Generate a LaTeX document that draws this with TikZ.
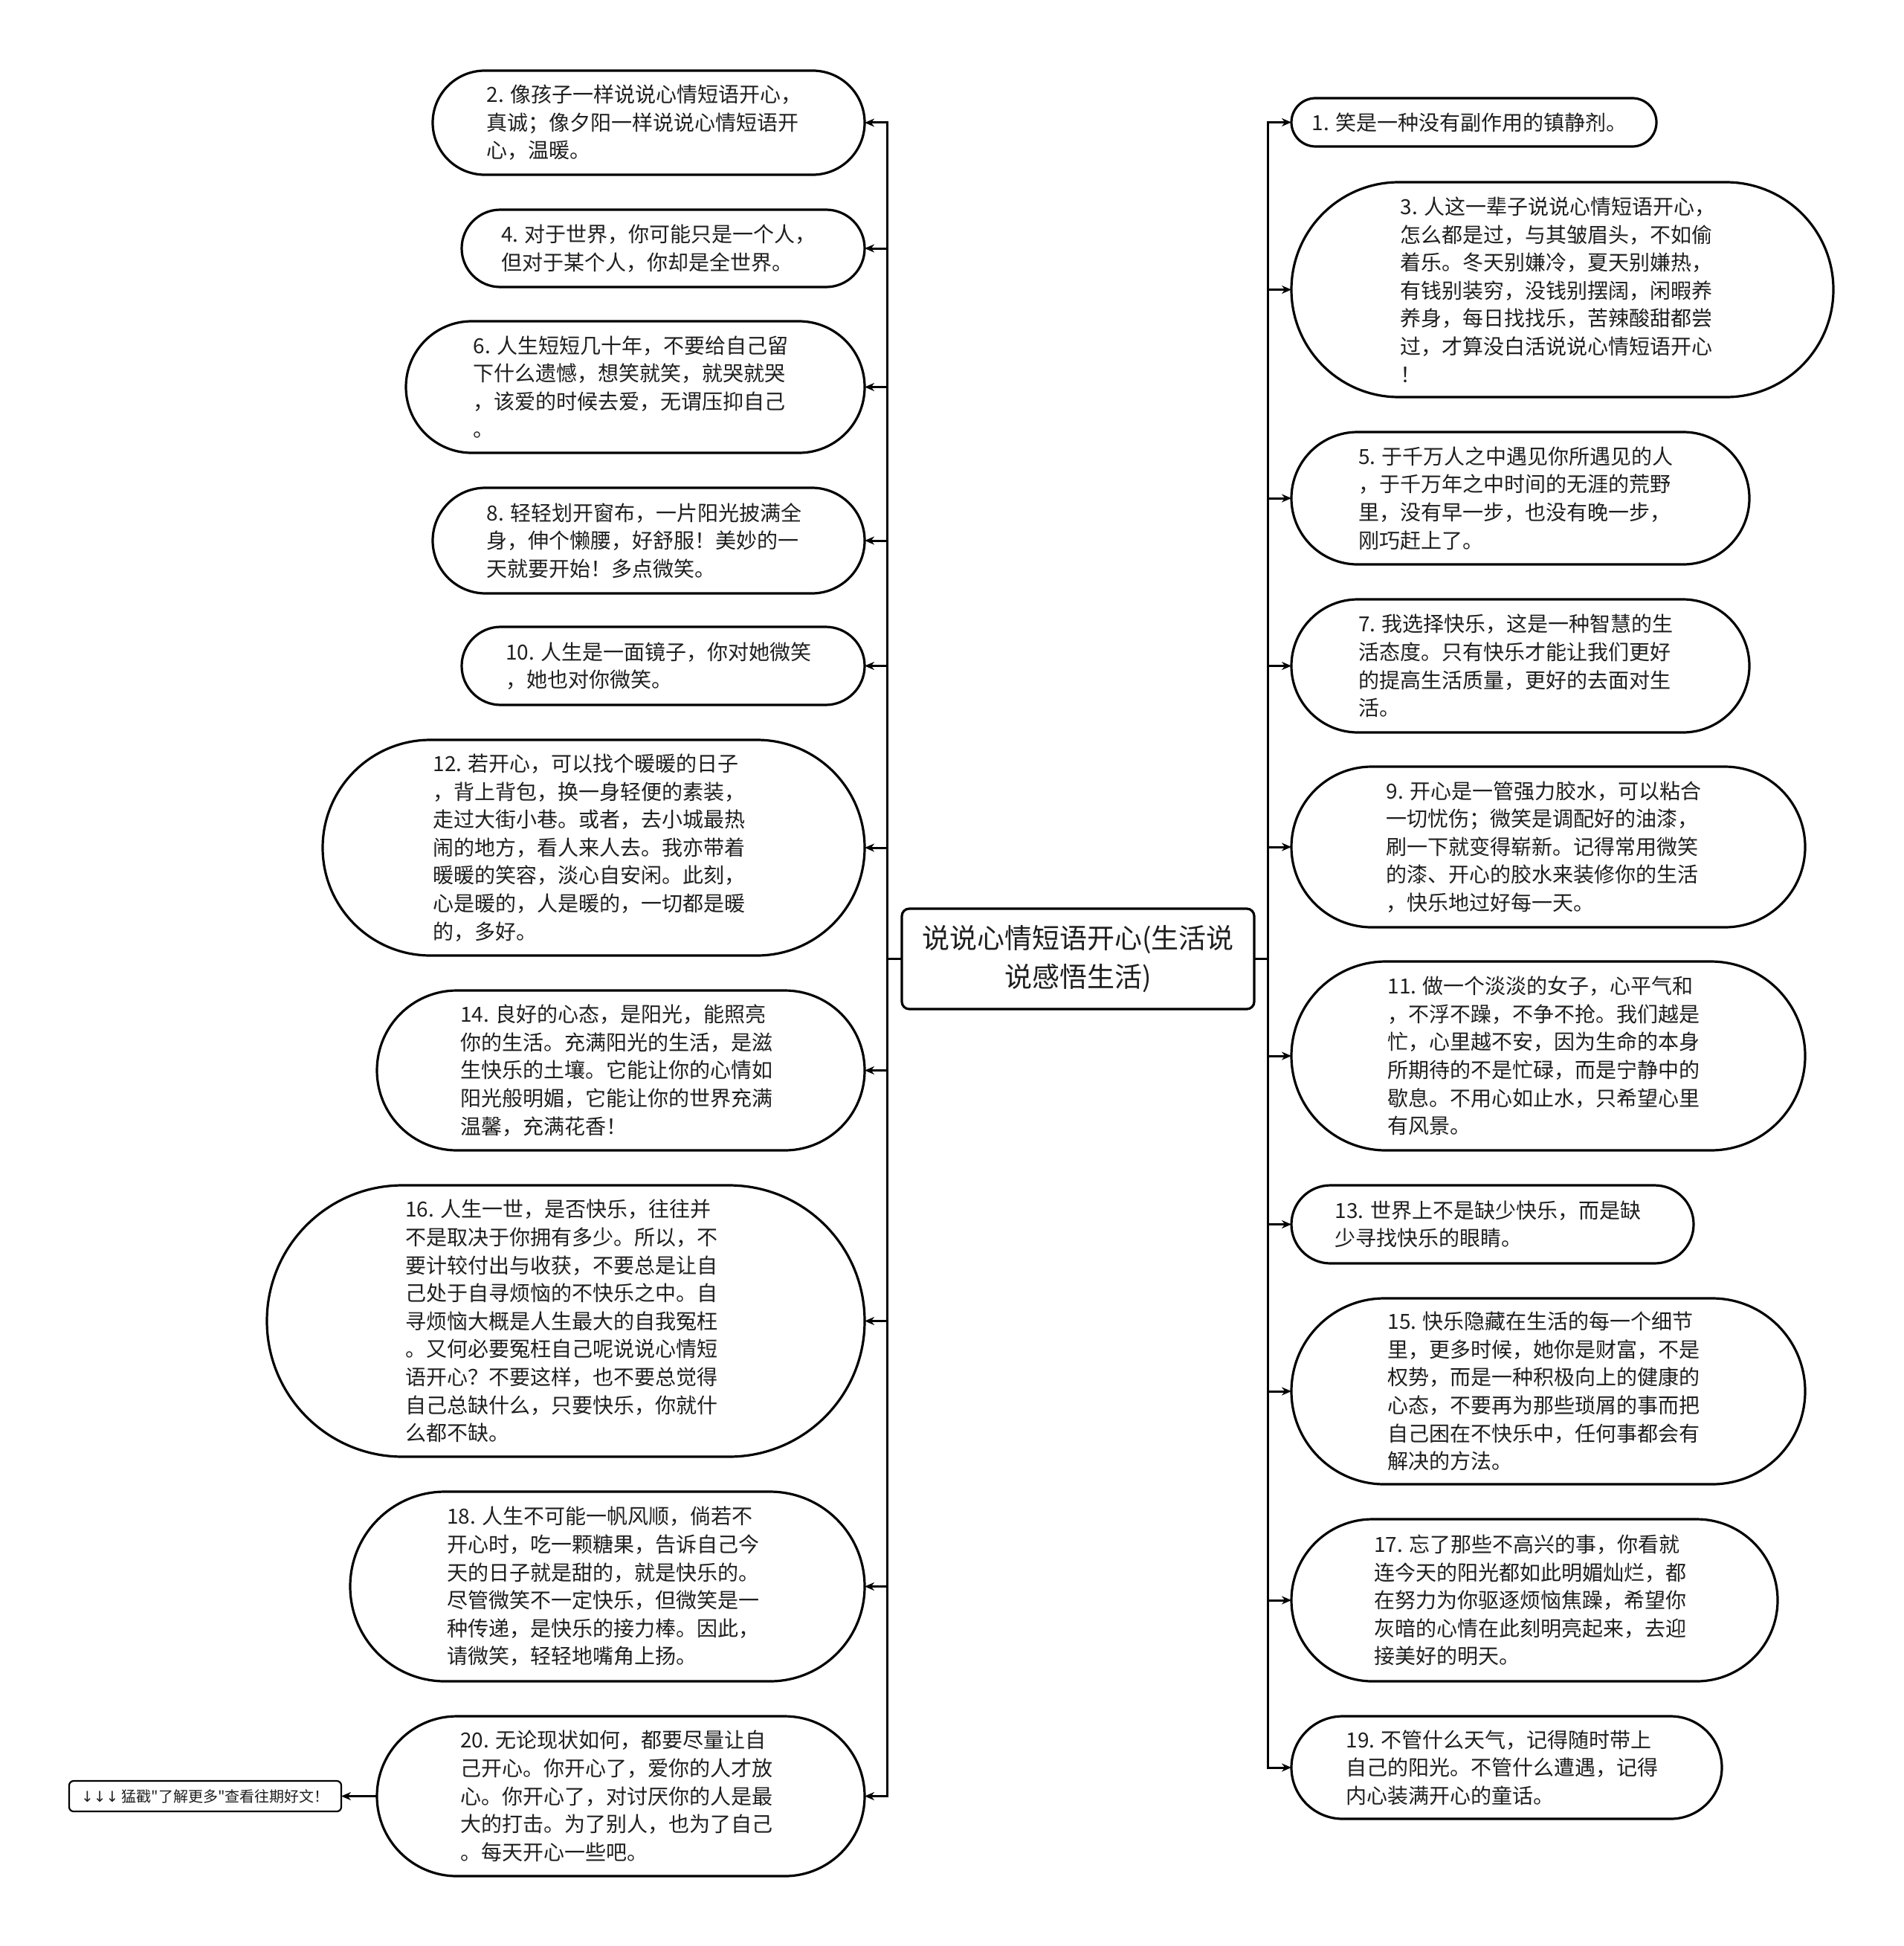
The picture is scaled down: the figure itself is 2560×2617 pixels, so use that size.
\documentclass[tikz,border=0pt]{standalone}
\usepackage{fontspec}
\setmainfont{Noto Sans CJK SC}
\newfontfamily\plaincjk{Noto Sans CJK SC}
\newfontfamily\dvfont{DejaVu Sans}
\usetikzlibrary{shapes.misc,arrows.meta}
\tikzset{
  bub/.style={rounded rectangle, draw=black, line width=3.2pt, fill=white, inner sep=0pt, outer sep=0pt},
  txt/.style={align=left, font=\fontsize{28}{37.6}\selectfont, inner sep=0pt, text=black!88},
  cen/.style={draw=black, line width=3.2pt, rounded corners=10pt, fill=white, align=center, inner sep=0pt, outer sep=0pt, font=\fontsize{37}{52}\selectfont, text=black!88},
  foot/.style={draw=black, line width=2.2pt, rounded corners=6pt, fill=white, align=center, inner sep=0pt, outer sep=0pt, font=\plaincjk\fontsize{20}{24}\selectfont, text=black!88},
  conn/.style={draw=black, line width=3pt, -{Stealth[length=13pt,width=11pt]}}
}
\newcommand\bubble[6]{%
  \node[bub, minimum width={(#4-#2)*1pt}, minimum height={(#5-#3)*1pt}] (#1) at ({(#2+#4)/2},{-(#3+#5)/2}) {};
  \node[txt] (#1t) at ([xshift=-6pt]#1.center) {#6};
}
\begin{document}
\begin{tikzpicture}[x=1pt,y=1pt]
\useasboundingbox (0,0) rectangle (2560,-2617);
\fill[white] (0,0) rectangle (2560,-2617);
% central
\node[cen, minimum width=474pt, minimum height=135pt] (c) at (1450,-1289.5) {说说心情短语开心(生活说\\说感悟生活)};
% left
\bubble{n2}{582}{95}{1163}{235}{2. 像孩子一样说说心情短语开心，\\真诚；像夕阳一样说说心情短语开\\心，温暖。}
\bubble{n4}{621}{282}{1163}{386}{4. 对于世界，你可能只是一个人，\\但对于某个人，你却是全世界。}
\bubble{n6}{546}{432}{1163}{609}{6. 人生短短几十年，不要给自己留\\下什么遗憾，想笑就笑，就哭就哭\\，该爱的时候去爱，无谓压抑自己\\。}
\bubble{n8}{582}{656}{1163}{798}{8. 轻轻划开窗布，一片阳光披满全\\身，伸个懒腰，好舒服！美妙的一\\天就要开始！多点微笑。}
\bubble{n10}{621}{843}{1163}{948}{10. 人生是一面镜子，你对她微笑\\，她也对你微笑。}
\bubble{n12}{434}{995}{1163}{1285}{12. 若开心，可以找个暖暖的日子\\，背上背包，换一身轻便的素装，\\走过大街小巷。或者，去小城最热\\闹的地方，看人来人去。我亦带着\\暖暖的笑容，淡心自安闲。此刻，\\心是暖的，人是暖的，一切都是暖\\的，多好。}
\bubble{n14}{507}{1332}{1163}{1547}{14. 良好的心态，是阳光，能照亮\\你的生活。充满阳光的生活，是滋\\生快乐的土壤。它能让你的心情如\\阳光般明媚，它能让你的世界充满\\温馨，充满花香！}
\bubble{n16}{359}{1594}{1163}{1959}{16. 人生一世，是否快乐，往往并\\不是取决于你拥有多少。所以，不\\要计较付出与收获，不要总是让自\\己处于自寻烦恼的不快乐之中。自\\寻烦恼大概是人生最大的自我冤枉\\。又何必要冤枉自己呢说说心情短\\语开心？不要这样，也不要总觉得\\自己总缺什么，只要快乐，你就什\\么都不缺。}
\bubble{n18}{471}{2006}{1163}{2261}{18. 人生不可能一帆风顺，倘若不\\开心时，吃一颗糖果，告诉自己今\\天的日子就是甜的，就是快乐的。\\尽管微笑不一定快乐，但微笑是一\\种传递，是快乐的接力棒。因此，\\请微笑，轻轻地嘴角上扬。}
\bubble{n20}{507}{2308}{1163}{2523}{20. 无论现状如何，都要尽量让自\\己开心。你开心了，爱你的人才放\\心。你开心了，对讨厌你的人是最\\大的打击。为了别人，也为了自己\\。每天开心一些吧。}
\node[foot, minimum width=366pt, minimum height=41pt] (ft) at (276,-2415.5) {{\dvfont ↓↓↓} 猛戳"了解更多"查看往期好文！};
% right
\bubble{n1}{1737}{132}{2228}{197}{1. 笑是一种没有副作用的镇静剂。}
\bubble{n3}{1737}{245}{2466}{534}{3. 人这一辈子说说心情短语开心，\\怎么都是过，与其皱眉头，不如偷\\着乐。冬天别嫌冷，夏天别嫌热，\\有钱别装穷，没钱别摆阔，闲暇养\\养身，每日找找乐，苦辣酸甜都尝\\过，才算没白活说说心情短语开心\\！}
\bubble{n5}{1737}{581}{2353}{759}{5. 于千万人之中遇见你所遇见的人\\，于千万年之中时间的无涯的荒野\\里，没有早一步，也没有晚一步，\\刚巧赶上了。}
\bubble{n7}{1737}{806}{2353}{985}{7. 我选择快乐，这是一种智慧的生\\活态度。只有快乐才能让我们更好\\的提高生活质量，更好的去面对生\\活。}
\bubble{n9}{1737}{1031}{2428}{1247}{9. 开心是一管强力胶水，可以粘合\\一切忧伤；微笑是调配好的油漆，\\刷一下就变得崭新。记得常用微笑\\的漆、开心的胶水来装修你的生活\\，快乐地过好每一天。}
\bubble{n11}{1737}{1293}{2428}{1547}{11. 做一个淡淡的女子，心平气和\\，不浮不躁，不争不抢。我们越是\\忙，心里越不安，因为生命的本身\\所期待的不是忙碌，而是宁静中的\\歇息。不用心如止水，只希望心里\\有风景。}
\bubble{n13}{1737}{1594}{2278}{1699}{13. 世界上不是缺少快乐，而是缺\\少寻找快乐的眼睛。}
\bubble{n15}{1737}{1746}{2428}{1996}{15. 快乐隐藏在生活的每一个细节\\里，更多时候，她你是财富，不是\\权势，而是一种积极向上的健康的\\心态，不要再为那些琐屑的事而把\\自己困在不快乐中，任何事都会有\\解决的方法。}
\bubble{n17}{1737}{2043}{2391}{2261}{17. 忘了那些不高兴的事，你看就\\连今天的阳光都如此明媚灿烂，都\\在努力为你驱逐烦恼焦躁，希望你\\灰暗的心情在此刻明亮起来，去迎\\接美好的明天。}
\bubble{n19}{1737}{2308}{2316}{2446}{19. 不管什么天气，记得随时带上\\自己的阳光。不管什么遭遇，记得\\内心装满开心的童话。}
% connectors left
\foreach \n in {n2,n4,n6,n8,n10,n12,n14,n16,n18,n20}
  \draw[conn] (c.west) -- ++(-20,0) |- (\n.east);
% connectors right
\foreach \n in {n1,n3,n5,n7,n9,n11,n13,n15,n17,n19}
  \draw[conn] (c.east) -- ++(18,0) |- (\n.west);
\draw[conn] (n20.west) -- (ft.east);
\end{tikzpicture}
\end{document}
